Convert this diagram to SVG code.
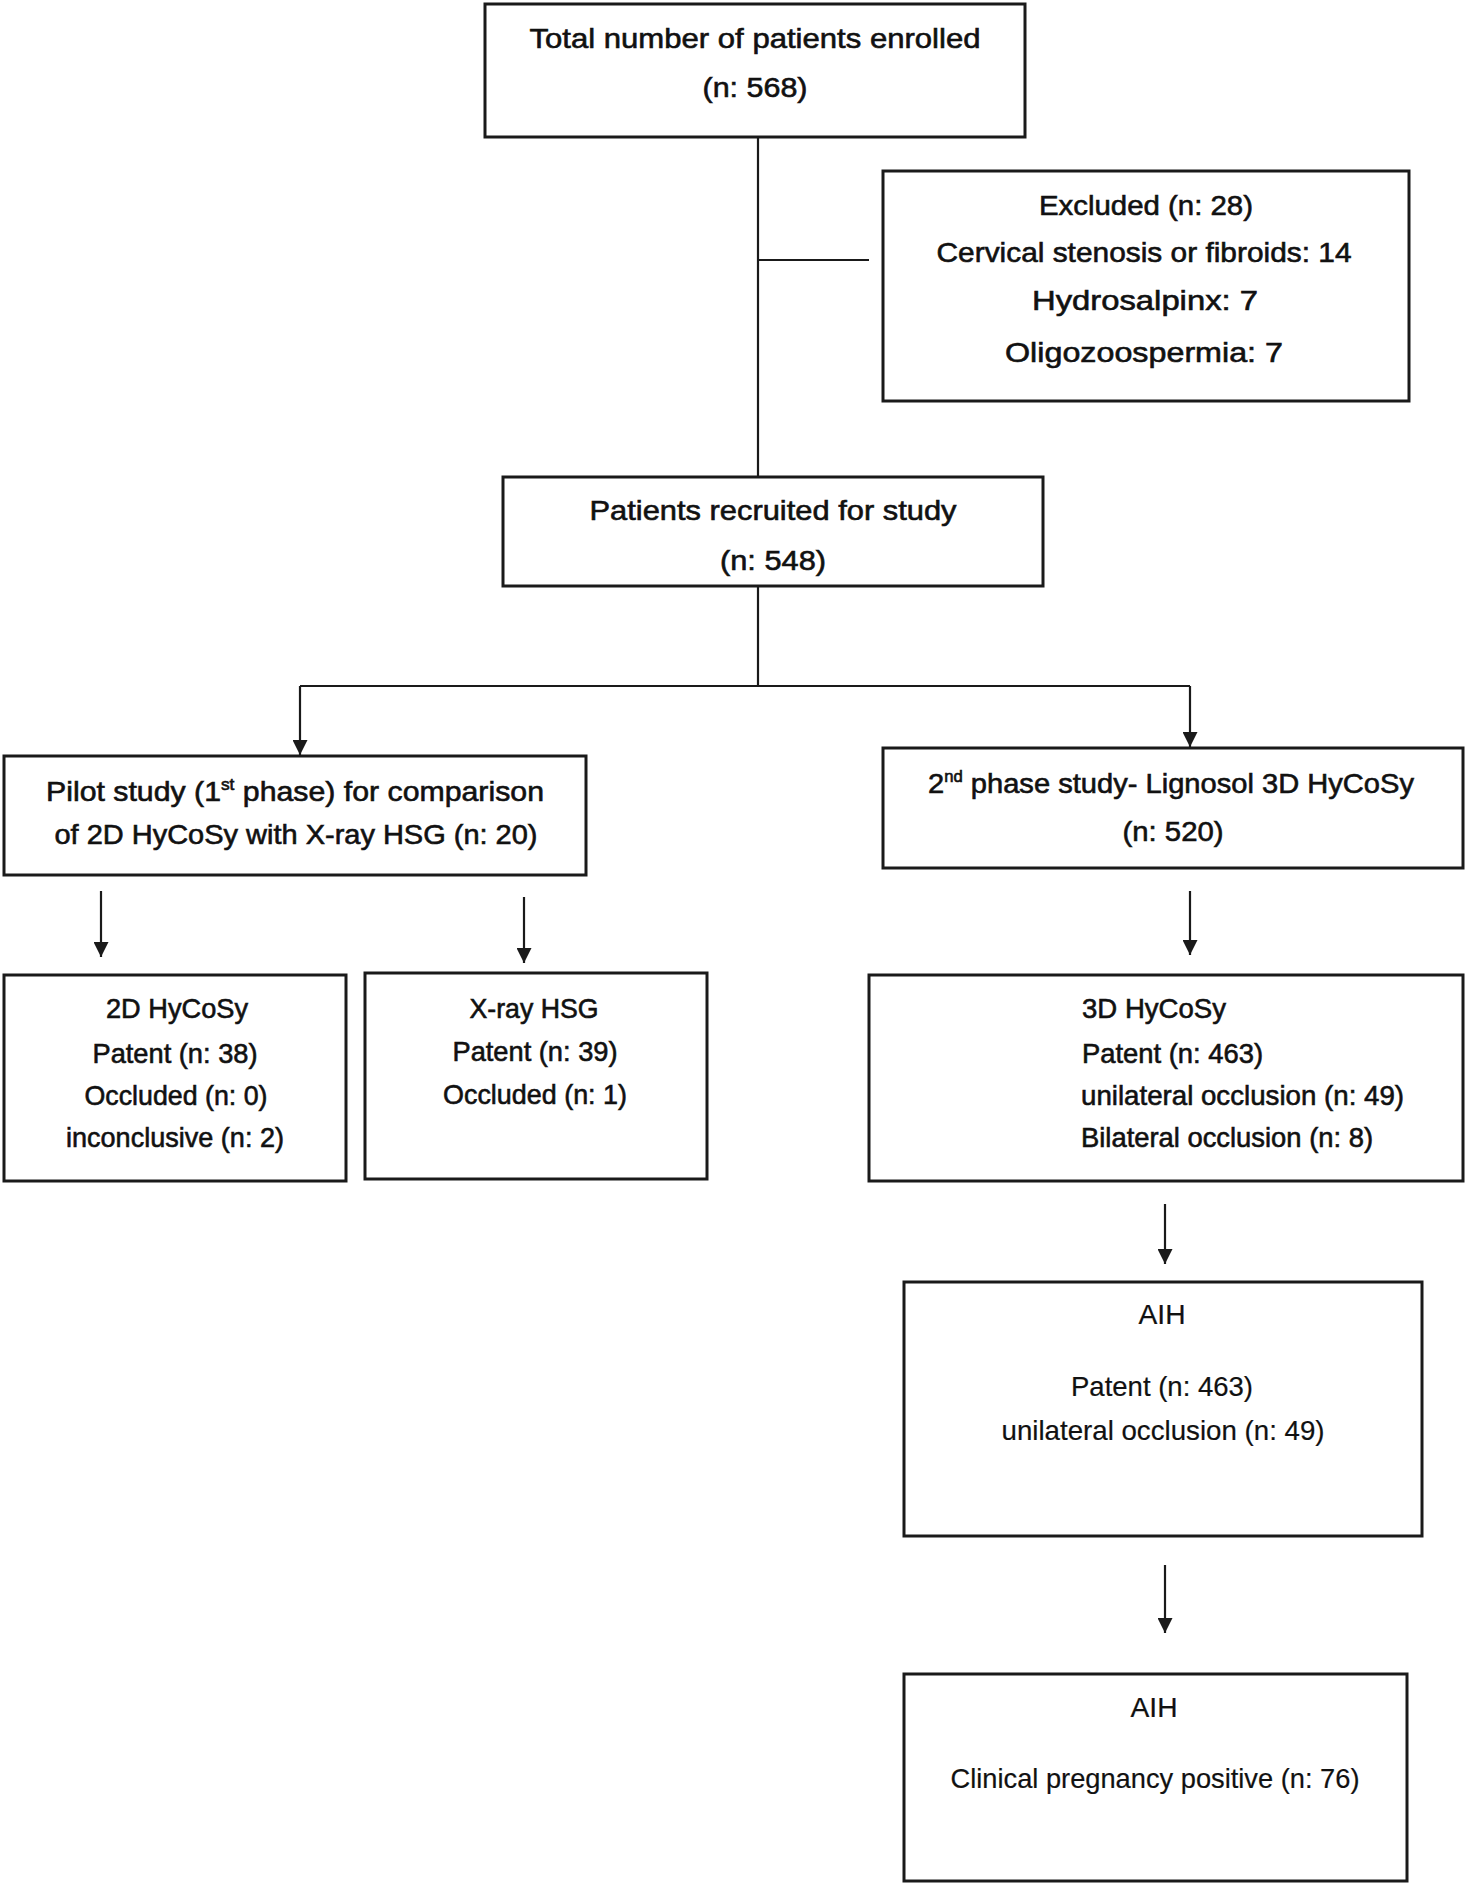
<svg xmlns="http://www.w3.org/2000/svg" width="1469" height="1886" viewBox="0 0 1469 1886">
<style>
.box{fill:#fff;stroke:#1a1a1a;stroke-width:3}
.ln{fill:none;stroke:#1a1a1a;stroke-width:2.2}
text{font-family:"Liberation Sans",Arial,sans-serif;font-size:28px;fill:#111;text-anchor:middle;stroke:#111;stroke-width:0.6}
.thin text{stroke-width:0.2}
.l{text-anchor:start}
.sup{font-size:16px}
</style>
<defs>
<marker id="ah" viewBox="0 0 10 10" refX="10" refY="5" markerWidth="15" markerHeight="15" markerUnits="userSpaceOnUse" orient="auto">
<path d="M0,0 L10,5 L0,10 z" fill="#1a1a1a"/>
</marker>
</defs>
<rect width="1469" height="1886" fill="#fff"/>
<g id="connectors">
<line class="ln" x1="758" y1="137" x2="758" y2="477"/>
<line class="ln" x1="758" y1="260" x2="869" y2="260"/>
<polyline class="ln" points="758,586 758,686"/>
<line class="ln" x1="300" y1="686" x2="1190" y2="686"/>
<line class="ln" x1="300" y1="686" x2="300" y2="755" marker-end="url(#ah)"/>
<line class="ln" x1="1190" y1="686" x2="1190" y2="747" marker-end="url(#ah)"/>
<line class="ln" x1="101" y1="891" x2="101" y2="957" marker-end="url(#ah)"/>
<line class="ln" x1="524" y1="897" x2="524" y2="963" marker-end="url(#ah)"/>
<line class="ln" x1="1190" y1="891" x2="1190" y2="955" marker-end="url(#ah)"/>
<line class="ln" x1="1165" y1="1204" x2="1165" y2="1264" marker-end="url(#ah)"/>
<line class="ln" x1="1165" y1="1565" x2="1165" y2="1633" marker-end="url(#ah)"/>
</g>
<g id="enrolled">
<rect class="box" x="485" y="4" width="540" height="133"/>
<text x="755" y="48" textLength="451" lengthAdjust="spacingAndGlyphs">Total number of patients enrolled</text>
<text x="755" y="97" textLength="105" lengthAdjust="spacingAndGlyphs">(n: 568)</text>
</g>
<g id="excluded">
<rect class="box" x="883" y="171" width="526" height="230"/>
<text x="1146" y="215" textLength="214" lengthAdjust="spacingAndGlyphs">Excluded (n: 28)</text>
<text x="1144" y="262" textLength="415" lengthAdjust="spacingAndGlyphs">Cervical stenosis or fibroids: 14</text>
<text x="1145" y="310" textLength="226" lengthAdjust="spacingAndGlyphs">Hydrosalpinx: 7</text>
<text x="1144" y="362" textLength="278" lengthAdjust="spacingAndGlyphs">Oligozoospermia: 7</text>
</g>
<g id="recruited">
<rect class="box" x="503" y="477" width="540" height="109"/>
<text x="773" y="520" textLength="367" lengthAdjust="spacingAndGlyphs">Patients recruited for study</text>
<text x="773" y="570" textLength="106" lengthAdjust="spacingAndGlyphs">(n: 548)</text>
</g>
<g id="pilot">
<rect class="box" x="4" y="756" width="582" height="119"/>
<text x="295" y="801" textLength="498" lengthAdjust="spacingAndGlyphs">Pilot study (1<tspan class="sup" dy="-11">st</tspan><tspan dy="11"> phase) for comparison</tspan></text>
<text x="296" y="844" textLength="483" lengthAdjust="spacingAndGlyphs">of 2D HyCoSy with X-ray HSG (n: 20)</text>
</g>
<g id="phase2">
<rect class="box" x="883" y="748" width="580" height="120"/>
<text x="1171" y="793" textLength="486" lengthAdjust="spacingAndGlyphs">2<tspan class="sup" dy="-11">nd</tspan><tspan dy="11"> phase study- Lignosol 3D HyCoSy</tspan></text>
<text x="1173" y="841" textLength="101" lengthAdjust="spacingAndGlyphs">(n: 520)</text>
</g>
<g id="hycosy2d">
<rect class="box" x="4" y="975" width="342" height="206"/>
<text x="177" y="1018" textLength="142" lengthAdjust="spacingAndGlyphs">2D HyCoSy</text>
<text x="175" y="1063" textLength="165" lengthAdjust="spacingAndGlyphs">Patent (n: 38)</text>
<text x="176" y="1105" textLength="183" lengthAdjust="spacingAndGlyphs">Occluded (n: 0)</text>
<text x="175" y="1147" textLength="218" lengthAdjust="spacingAndGlyphs">inconclusive (n: 2)</text>
</g>
<g id="xrayhsg">
<rect class="box" x="365" y="973" width="342" height="206"/>
<text x="534" y="1018" textLength="129" lengthAdjust="spacingAndGlyphs">X-ray HSG</text>
<text x="535" y="1061" textLength="165" lengthAdjust="spacingAndGlyphs">Patent (n: 39)</text>
<text x="535" y="1104" textLength="184" lengthAdjust="spacingAndGlyphs">Occluded (n: 1)</text>
</g>
<g id="hycosy3d">
<rect class="box" x="869" y="975" width="594" height="206"/>
<text class="l" x="1082" y="1018" textLength="144" lengthAdjust="spacingAndGlyphs">3D HyCoSy</text>
<text class="l" x="1082" y="1063" textLength="181" lengthAdjust="spacingAndGlyphs">Patent (n: 463)</text>
<text class="l" x="1081" y="1105" textLength="323" lengthAdjust="spacingAndGlyphs">unilateral occlusion (n: 49)</text>
<text class="l" x="1081" y="1147" textLength="292" lengthAdjust="spacingAndGlyphs">Bilateral occlusion (n: 8)</text>
</g>
<g id="aih1" class="thin">
<rect class="box" x="904" y="1282" width="518" height="254"/>
<text x="1162" y="1324" textLength="47" lengthAdjust="spacingAndGlyphs">AIH</text>
<text x="1162" y="1396" textLength="182" lengthAdjust="spacingAndGlyphs">Patent (n: 463)</text>
<text x="1163" y="1440" textLength="323" lengthAdjust="spacingAndGlyphs">unilateral occlusion (n: 49)</text>
</g>
<g id="aih2" class="thin">
<rect class="box" x="904" y="1674" width="503" height="207"/>
<text x="1154" y="1717" textLength="47" lengthAdjust="spacingAndGlyphs">AIH</text>
<text x="1155" y="1788" textLength="409" lengthAdjust="spacingAndGlyphs">Clinical pregnancy positive (n: 76)</text>
</g>
</svg>
